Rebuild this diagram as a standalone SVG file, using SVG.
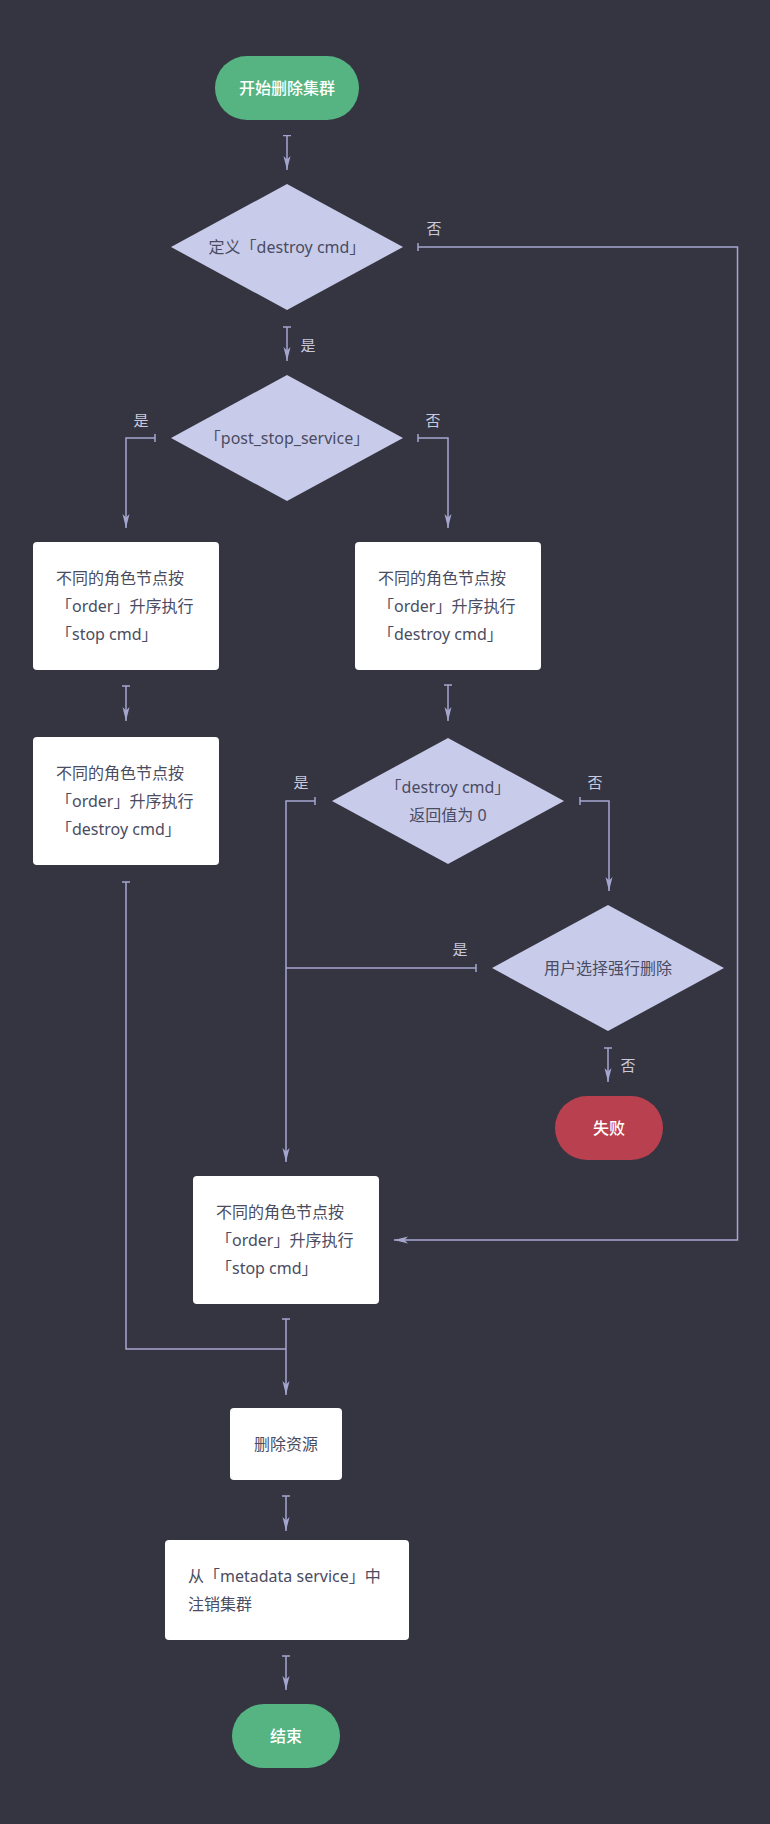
<svg xmlns="http://www.w3.org/2000/svg" width="770" height="1824" viewBox="0 0 770 1824">
<defs>
<marker id="arrow" viewBox="0 0 14 8" refX="14" refY="4" markerWidth="14" markerHeight="8" markerUnits="userSpaceOnUse" orient="auto">
<path d="M0,0.5 L14,4 L0,7.5 L3.5,4 Z" fill="#a5a6cf"/>
</marker>
<marker id="tick" viewBox="-1 -5 2 10" refX="0" refY="0" markerWidth="2" markerHeight="10" markerUnits="userSpaceOnUse" orient="auto">
<path d="M0,-4 V4" stroke="#a5a6cf" stroke-width="1.5"/>
</marker>
<style>
.bg{fill:#343541}
.pill-g{fill:#55b482}
.pill-r{fill:#b9404e}
.box{fill:#ffffff}
.dia{fill:#c9cbea}
.t{font-family:"Noto Sans","Noto Sans CJK SC",sans-serif;font-size:16px;fill:#4a4c62;dominant-baseline:central}
.tw{font-family:"Noto Sans","Noto Sans CJK SC",sans-serif;font-size:16px;fill:#ffffff;dominant-baseline:central;text-anchor:middle;font-weight:500}
.c{text-anchor:middle}
.lbl{font-family:"Noto Sans CJK SC","Noto Sans",sans-serif;font-size:15px;fill:#c8c9de;dominant-baseline:central;text-anchor:middle}
.ln{fill:none;stroke:#a5a6cf;stroke-width:1.5}
.a{marker-end:url(#arrow)}
.k{marker-start:url(#tick)}
</style>
</defs>
<rect class="bg" x="0" y="0" width="770" height="1824"/>

<g id="connectors">
<path class="ln k a" d="M287,135.5 V170"/>
<path class="ln k a" d="M287,327 V361"/>
<path class="ln k a" d="M418,247 H737.5 V1240 H394"/>
<path class="ln k a" d="M155,438 H126 V528"/>
<path class="ln k a" d="M418,438 H448 V528"/>
<path class="ln k a" d="M126,686 V721"/>
<path class="ln k a" d="M448,685 V721"/>
<path class="ln k a" d="M315,801 H286 V1162"/>
<path class="ln k a" d="M580,801 H609 V891"/>
<path class="ln k" d="M476,968 H286"/>
<path class="ln k a" d="M608,1048 V1082"/>
<path class="ln k" d="M126,882 V1349 H286"/>
<path class="ln k a" d="M286,1319 V1395"/>
<path class="ln k a" d="M286,1496 V1531"/>
<path class="ln k a" d="M286,1656 V1690"/>
<text class="lbl" x="434" y="227">否</text>
<text class="lbl" x="308" y="344">是</text>
<text class="lbl" x="141" y="419">是</text>
<text class="lbl" x="433" y="419">否</text>
<text class="lbl" x="301" y="781">是</text>
<text class="lbl" x="595" y="781">否</text>
<text class="lbl" x="460" y="948">是</text>
<text class="lbl" x="628" y="1064">否</text>
</g>

<g id="start">
<rect class="pill-g" x="215" y="56" width="144" height="64" rx="32"/>
<text class="tw" x="287" y="88">开始删除集群</text>
</g>

<g id="d1">
<polygon class="dia" points="287,184 403,247 287,310 171,247"/>
<text class="t c" x="287" y="247">定义「destroy cmd」</text>
</g>

<g id="d2">
<polygon class="dia" points="287,375 403,438 287,501 171,438"/>
<text class="t c" x="287" y="438">「post_stop_service」</text>
</g>

<g id="l1">
<rect class="box" x="33" y="542" width="186" height="128" rx="4"/>
<text class="t" x="56" y="578">不同的角色节点按</text>
<text class="t" x="56" y="606">「order」升序执行</text>
<text class="t" x="56" y="634">「stop cmd」</text>
</g>

<g id="r1">
<rect class="box" x="355" y="542" width="186" height="128" rx="4"/>
<text class="t" x="378" y="578">不同的角色节点按</text>
<text class="t" x="378" y="606">「order」升序执行</text>
<text class="t" x="378" y="634">「destroy cmd」</text>
</g>

<g id="l2">
<rect class="box" x="33" y="737" width="186" height="128" rx="4"/>
<text class="t" x="56" y="773">不同的角色节点按</text>
<text class="t" x="56" y="801">「order」升序执行</text>
<text class="t" x="56" y="829">「destroy cmd」</text>
</g>

<g id="d3">
<polygon class="dia" points="448,738 564,801 448,864 332,801"/>
<text class="t c" x="448" y="787">「destroy cmd」</text>
<text class="t c" x="448" y="815">返回值为 0</text>
</g>

<g id="d4">
<polygon class="dia" points="608,905 724,968 608,1031 492,968"/>
<text class="t c" x="608" y="968">用户选择强行删除</text>
</g>

<g id="fail">
<rect class="pill-r" x="555" y="1096" width="108" height="64" rx="32"/>
<text class="tw" x="609" y="1128">失败</text>
</g>

<g id="stop2">
<rect class="box" x="193" y="1176" width="186" height="128" rx="4"/>
<text class="t" x="216" y="1212">不同的角色节点按</text>
<text class="t" x="216" y="1240">「order」升序执行</text>
<text class="t" x="216" y="1268">「stop cmd」</text>
</g>

<g id="delres">
<rect class="box" x="230" y="1408" width="112" height="72" rx="4"/>
<text class="t c" x="286" y="1444">删除资源</text>
</g>

<g id="unreg">
<rect class="box" x="165" y="1540" width="244" height="100" rx="4"/>
<text class="t" x="188" y="1576">从「metadata service」中</text>
<text class="t" x="188" y="1604">注销集群</text>
</g>

<g id="end">
<rect class="pill-g" x="232" y="1704" width="108" height="64" rx="32"/>
<text class="tw" x="286" y="1736">结束</text>
</g>
</svg>
